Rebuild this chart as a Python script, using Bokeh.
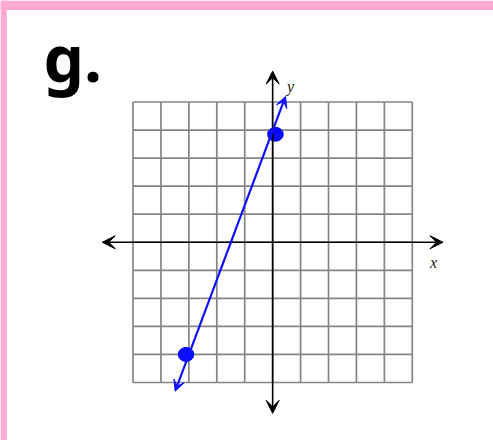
from bokeh.plotting import figure
from bokeh.models import Arrow, VeeHead, BoxAnnotation, Label
from bokeh.core.properties import value
from bokeh.embed import file_html
from bokeh.resources import INLINE

# ---- data ----
grid_ticks = [-5, -4, -3, -2, -1, 0, 1, 2, 3, 4, 5]
axis_extent = 6.1
line_x = [-3.49, 0.46]
line_y = [-5.31, 5.2]
point_x = [0.1, -3.1]
point_y = [3.85, -4.0]
title_text = "g."
x_label = "x"
y_label = "y"

W, H = 493, 440
p = figure(width=W, height=H, x_range=(-9.744, 7.907), y_range=(-7.068, 8.619),
           output_backend="svg", toolbar_location=None, min_border=0,
           x_axis_type=None, y_axis_type=None)
p.styles = {"position": "absolute", "left": "0px", "top": "0px"}
p.grid.visible = False
p.outline_line_color = None
p.background_fill_color = "white"
p.border_fill_color = "white"

pink = "#FFA8D4"
p.add_layout(BoxAnnotation(bottom=8.28, fill_color=pink, fill_alpha=1, line_color=None))
p.add_layout(BoxAnnotation(right=-9.52, fill_color=pink, fill_alpha=1, line_color=None))

# grid
lo, hi = grid_ticks[0], grid_ticks[-1]
p.segment(x0=grid_ticks, y0=[lo] * len(grid_ticks), x1=grid_ticks, y1=[hi] * len(grid_ticks),
          line_color="#858585", line_width=1.7)
p.segment(x0=[lo] * len(grid_ticks), y0=grid_ticks, x1=[hi] * len(grid_ticks), y1=grid_ticks,
          line_color="#858585", line_width=1.7)

# axes with arrows
for (xs, ys, xe, ye) in [(-axis_extent, 0, axis_extent, 0), (0, -axis_extent, 0, axis_extent)]:
    p.add_layout(Arrow(x_start=xs, y_start=ys, x_end=xe, y_end=ye, line_color="black", line_width=1.6,
                       start=VeeHead(size=13, fill_color="black", line_color="black"),
                       end=VeeHead(size=13, fill_color="black", line_color="black")))

# blue line with arrows
p.add_layout(Arrow(x_start=line_x[0], y_start=line_y[0], x_end=line_x[1], y_end=line_y[1],
                   line_color="#1010ff", line_width=2.2,
                   start=VeeHead(size=11, fill_color="#1010ff", line_color="#1010ff"),
                   end=VeeHead(size=11, fill_color="#1010ff", line_color="#1010ff")))

p.ellipse(point_x, point_y, width=0.56, height=0.5, fill_color="#0a0aff", line_color="#0a0aff")

# labels
p.text(x=[5.76], y=[-0.72], text=[x_label], text_font=value("Liberation Serif"),
       text_font_style="italic", text_font_size="16px", text_align="center",
       text_baseline="middle", text_color="#222222")
p.text(x=[0.64], y=[5.55], text=[y_label], text_font=value("Liberation Serif"),
       text_font_style="italic", text_font_size="16px", text_align="center",
       text_baseline="middle", text_color="#222222")

p.add_layout(Label(x=-8.2, y=6.6, text=title_text, text_font="Noto Sans",
                   text_font_style="bold", text_font_size="64px", text_color="black",
                   text_baseline="alphabetic", text_align="left"))

open("out.html", "w").write(file_html(p, INLINE))
